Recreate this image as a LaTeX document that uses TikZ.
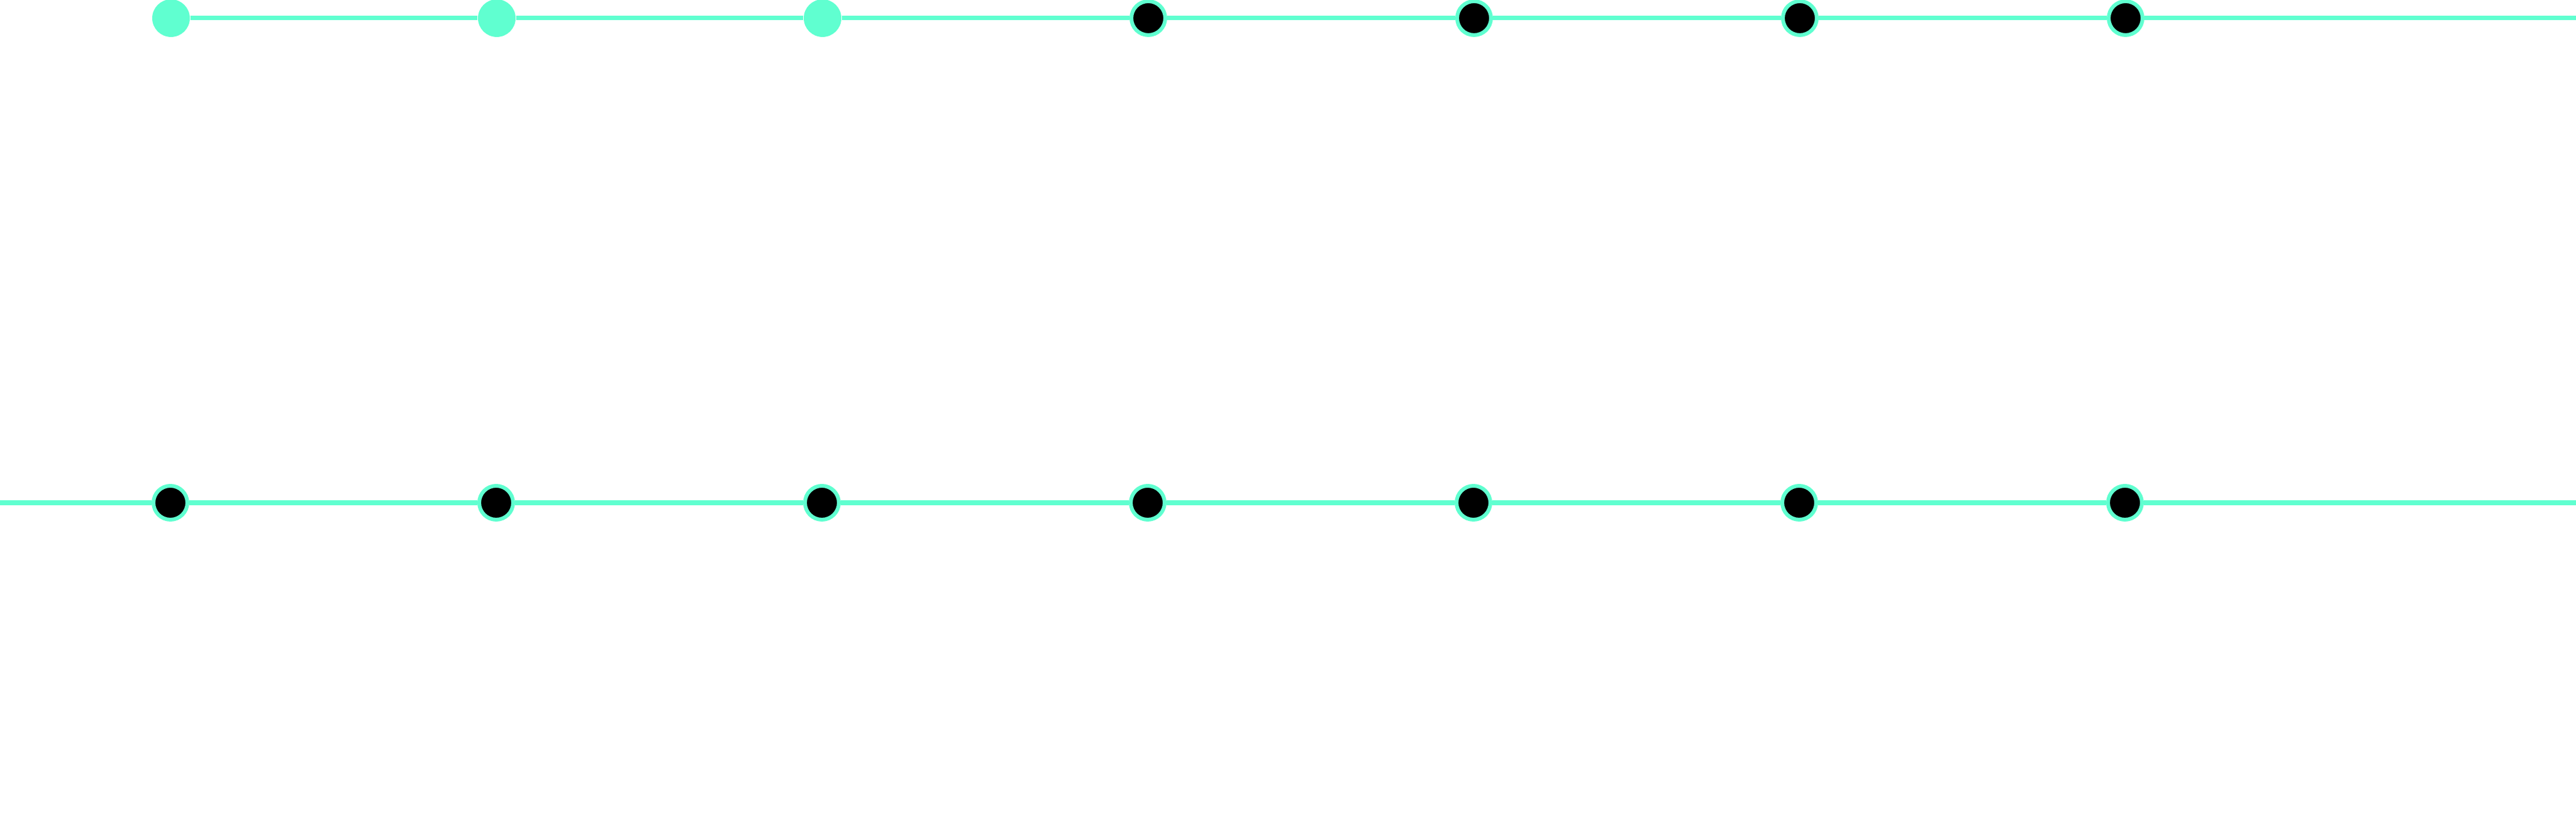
\documentclass[tikz,border=0pt]{standalone}
\definecolor{aqua}{HTML}{60FFD0}
\tikzset{
    rail/.style={draw=aqua,line width=0.07cm},
    stopdone/.style={circle,fill=aqua,inner sep=0pt,minimum size=0.6cm},
    stopopen/.style={circle,draw=aqua,fill=black,line width=0.06cm,inner sep=0pt,minimum size=0.54cm}
}
\begin{document}
\begin{tikzpicture}
    \useasboundingbox (0,0) rectangle (41.12,13.32);

    \pgfmathsetmacro{\gap}{5.2}

    % upper row
    \foreach \i in {1,...,7}{
        \pgfmathsetmacro{\xpos}{2.73+(\i-1)*\gap}
        \ifnum\i<4
            \node[stopdone] (top\i) at (\xpos,13.03) {};
        \else
            \node[stopopen] (top\i) at (\xpos,13.03) {};
        \fi
    }

    % lower row
    \foreach \i in {1,...,7}{
        \pgfmathsetmacro{\xpos}{2.72+(\i-1)*\gap}
        \node[stopopen] (bot\i) at (\xpos,5.30) {};
    }

    \coordinate (topend) at (41.12,13.03);
    \coordinate (botstart) at (0,5.30);
    \coordinate (botend) at (41.12,5.30);

    \foreach \i in {1,...,6}{
        \pgfmathtruncatemacro{\inext}{\i+1}
        \draw[rail] (top\i) -- (top\inext);
        \draw[rail,line width=0.08cm] (bot\i) -- (bot\inext);
    }
    \draw[rail] (top7) -- (topend);
    \draw[rail,line width=0.08cm] (botstart) -- (bot1);
    \draw[rail,line width=0.08cm] (bot7) -- (botend);
\end{tikzpicture}
\end{document}
